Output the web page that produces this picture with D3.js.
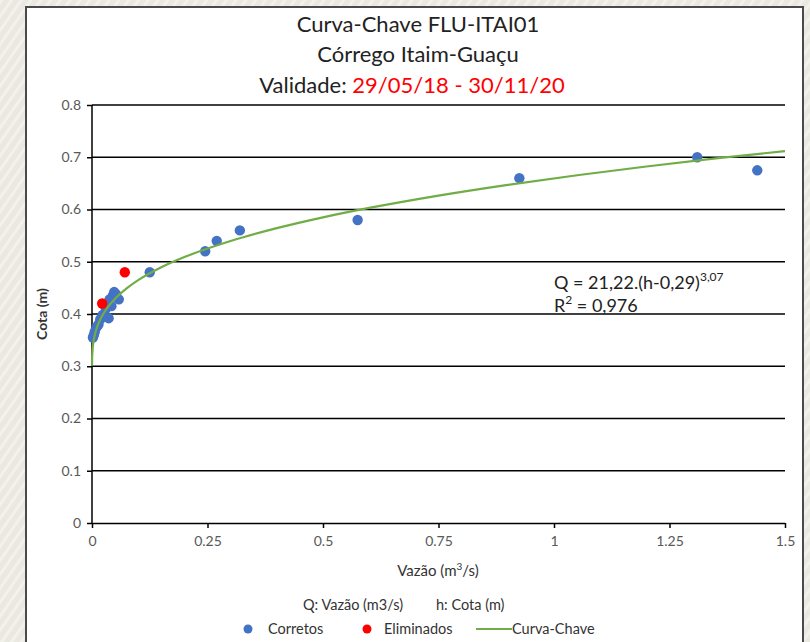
<!DOCTYPE html>
<html><head><meta charset="utf-8">
<script src="https://cdn.jsdelivr.net/npm/d3@7"></script>
<style>
html,body{margin:0;padding:0;width:810px;height:642px;overflow:hidden;}
svg{display:block;}
</style></head>
<body>
<script>
// ---- data ----
const xTicks = [0, 0.25, 0.5, 0.75, 1, 1.25, 1.5];
const xTickLabels = ["0", "0.25", "0.5", "0.75", "1", "1.25", "1.5"];
const yTicks = [0, 0.1, 0.2, 0.3, 0.4, 0.5, 0.6, 0.7, 0.8];
const yTickLabels = ["0", "0.1", "0.2", "0.3", "0.4", "0.5", "0.6", "0.7", "0.8"];
// Corretos (Q m3/s, h m)
const corretosQ = [0.002, 0.004, 0.006, 0.010, 0.014, 0.018, 0.023, 0.036, 0.030, 0.035, 0.038, 0.045, 0.048, 0.052, 0.058, 0.042, 0.125, 0.245, 0.270, 0.320, 0.575, 0.925, 1.310, 1.440];
const corretosH = [0.355, 0.360, 0.366, 0.375, 0.380, 0.390, 0.398, 0.392, 0.410, 0.420, 0.428, 0.435, 0.442, 0.438, 0.428, 0.415, 0.480, 0.520, 0.540, 0.560, 0.580, 0.660, 0.700, 0.675];
// Eliminados
const eliminadosQ = [0.022, 0.071];
const eliminadosH = [0.420, 0.480];
// Curva-Chave: Q = 21,22.(h-0,29)^3,07 (points of the fitted curve)
const curveQ = [0.00002, 0.0002, 0.001, 0.002, 0.005, 0.01, 0.02, 0.035, 0.05, 0.075, 0.1, 0.15, 0.2, 0.3, 0.4, 0.5, 0.6, 0.75, 0.9, 1.05, 1.2, 1.35, 1.5];
const curveH = [0.3009, 0.3131, 0.3289, 0.3388, 0.3558, 0.3725, 0.3934, 0.4140, 0.4293, 0.4490, 0.4647, 0.4893, 0.5089, 0.5397, 0.5643, 0.5850, 0.6030, 0.6266, 0.6472, 0.6656, 0.6823, 0.6977, 0.7119];

const W = 810, H = 642;
const svg = d3.select("body").append("svg").attr("width", W).attr("height", H);
const FONT = "Lato, 'Open Sans', sans-serif";

// background pattern
const defs = svg.append("defs");
const pat = defs.append("pattern").attr("id", "bg").attr("width", 8).attr("height", 8)
  .attr("patternUnits", "userSpaceOnUse").attr("patternTransform", "rotate(35)");
pat.append("rect").attr("width", 8).attr("height", 8).attr("fill", "#ebe8e1");
pat.append("rect").attr("width", 3).attr("height", 8).attr("fill", "#f3f1ec");
svg.append("rect").attr("width", W).attr("height", H).attr("fill", "url(#bg)");

// white panel
svg.append("rect").attr("x", 26).attr("y", 7).attr("width", 777).attr("height", 650)
  .attr("fill", "#fff").attr("stroke", "#4a4a4a").attr("stroke-width", 2);

const m = {left: 92, right: 785, top: 105, bottom: 523};
const x = d3.scaleLinear().domain([0, 1.5]).range([m.left, m.right]);
const y = d3.scaleLinear().domain([0, 0.8]).range([m.bottom, m.top]);

// grid
svg.append("g").selectAll("line").data(yTicks.filter(d => d > 0)).join("line")
  .attr("x1", m.left).attr("x2", m.right).attr("y1", d => y(d)).attr("y2", d => y(d))
  .attr("stroke", "#000").attr("stroke-width", 1.5);

// axes
const yAxis = d3.axisLeft(y).tickValues(yTicks).tickFormat((d, i) => yTickLabels[i]).tickSize(5).tickPadding(6);
const gy = svg.append("g").attr("transform", `translate(${m.left},0)`).call(yAxis);
const xAxis = d3.axisBottom(x).tickValues(xTicks).tickFormat((d, i) => xTickLabels[i]).tickSize(5).tickPadding(8);
const gx = svg.append("g").attr("transform", `translate(0,${m.bottom})`).call(xAxis);
[gx, gy].forEach(g => {
  g.select(".domain").attr("stroke", "#000").attr("stroke-width", 1.5);
  g.selectAll(".tick line").attr("stroke", "#000").attr("stroke-width", 1.5);
  g.selectAll(".tick text").attr("fill", "#595959").attr("font-family", FONT).attr("font-size", 14);
});
gx.select(".domain").attr("d", `M${m.left},0.5H${m.right}`);
gy.select(".domain").attr("d", `M0,${m.bottom}V${m.top}`);

// points
const corretos = corretosQ.map((q, i) => [q, corretosH[i]]);
const eliminados = eliminadosQ.map((q, i) => [q, eliminadosH[i]]);
svg.append("g").selectAll("circle").data(corretos).join("circle")
  .attr("cx", d => x(d[0])).attr("cy", d => y(d[1])).attr("r", 5.2).attr("fill", "#4472C4");
svg.append("g").selectAll("circle").data(eliminados).join("circle")
  .attr("cx", d => x(d[0])).attr("cy", d => y(d[1])).attr("r", 5.2).attr("fill", "#FF0000");

// curve
const curve = curveQ.map((q, i) => [q, curveH[i]]);
svg.append("path").datum(curve)
  .attr("d", d3.line().x(d => x(d[0])).y(d => y(d[1])).curve(d3.curveMonotoneX))
  .attr("fill", "none").attr("stroke", "#70AD47").attr("stroke-width", 2.2);

// titles
const t = svg.append("g").attr("font-family", FONT).attr("font-size", 22).attr("fill", "#222").attr("text-anchor", "middle");
t.append("text").attr("x", 418).attr("y", 32).text("Curva-Chave FLU-ITAI01");
t.append("text").attr("x", 418).attr("y", 62).text("Córrego Itaim-Guaçu");
const t3 = t.append("text").attr("x", 412).attr("y", 93);
t3.append("tspan").text("Validade: ");
t3.append("tspan").attr("fill", "#FF0000").text("29/05/18 - 30/11/20");

// equation
const eq = svg.append("g").attr("font-family", FONT).attr("font-size", 18).attr("fill", "#222");
const e1 = eq.append("text").attr("x", 554).attr("y", 289);
e1.append("tspan").text("Q = 21,22.(h-0,29)");
e1.append("tspan").attr("font-size", 12).attr("dy", -8).text("3,07");
const e2 = eq.append("text").attr("x", 554).attr("y", 312);
e2.append("tspan").text("R");
e2.append("tspan").attr("font-size", 12).attr("dy", -8).text("2");
e2.append("tspan").attr("dy", 8).text(" = 0,976");

// axis titles
const at = svg.append("g").attr("font-family", FONT).attr("font-size", 15).attr("fill", "#333");
const xt = at.append("text").attr("x", 438).attr("y", 576).attr("text-anchor", "middle");
xt.append("tspan").text("Vazão (m");
xt.append("tspan").attr("font-size", 10).attr("dy", -6).text("3");
xt.append("tspan").attr("dy", 6).text("/s)");
at.append("text").attr("transform", "translate(47,314) rotate(-90)").attr("text-anchor", "middle")
  .attr("font-weight", "bold").attr("font-size", 14).text("Cota (m)");

// footnote & legend
const lg = svg.append("g").attr("font-family", FONT).attr("font-size", 14.5).attr("fill", "#333");
lg.append("text").attr("x", 303).attr("y", 610).text("Q: Vazão (m3/s)");
lg.append("text").attr("x", 436).attr("y", 610).text("h: Cota (m)");
lg.append("circle").attr("cx", 248).attr("cy", 629).attr("r", 4.5).attr("fill", "#4472C4");
lg.append("text").attr("x", 268).attr("y", 634).text("Corretos");
lg.append("circle").attr("cx", 367).attr("cy", 629).attr("r", 4.5).attr("fill", "#FF0000");
lg.append("text").attr("x", 384).attr("y", 634).text("Eliminados");
lg.append("line").attr("x1", 476).attr("x2", 512).attr("y1", 629).attr("y2", 629).attr("stroke", "#70AD47").attr("stroke-width", 2);
lg.append("text").attr("x", 512).attr("y", 634).text("Curva-Chave");
</script>
</body></html>
